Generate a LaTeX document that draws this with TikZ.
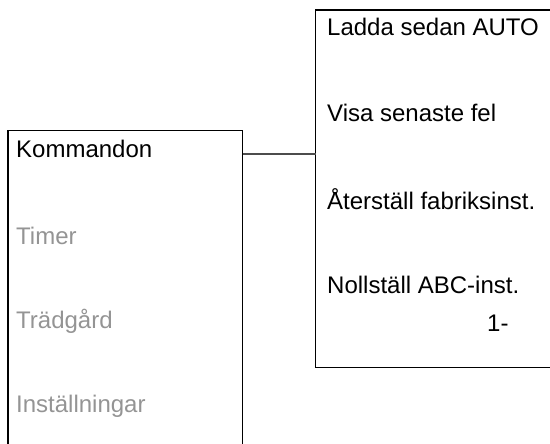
\documentclass[tikz,border=0pt]{standalone}
\usepackage{fontspec}
\setmainfont{Liberation Sans}
\begin{document}
\begin{tikzpicture}[x=1pt,y=-1pt,
  box/.style={draw=black,line width=1.3pt,inner sep=0pt,outer sep=0pt,anchor=north west},
  conn/.style={draw=black!70,line width=1.4pt},
  item/.style={anchor=base west,inner sep=0pt,font=\fontsize{24}{28}\selectfont},
  on/.style={item,text=black},
  off/.style={item,text=black!42}]
\useasboundingbox (0,0) rectangle (550,444);
\clip (0,0) rectangle (550,444);
\node[box,minimum width=234.5pt,minimum height=340pt] (left) at (8,130.5) {};
\node[box,minimum width=260pt,minimum height=357.7pt] (right) at (315.5,10) {};
\coordinate (ca) at (280,154);
\draw[conn] (left.east |- ca) -- (right.west |- ca);
\node[on]  (k)  at (16,158)   {Kommandon};
\node[off] (t)  at (16,244.3) {Timer};
\node[off] (tg) at (16,328.3) {Trädgård};
\node[off] (in) at (16,412.3) {Inställningar};
\node[on] (r1) at (327,35.7)  {Ladda sedan AUTO};
\node[on] (r2) at (327,121.7) {Visa senaste fel};
\node[on] (r3) at (327,209.3) {Återställ fabriksinst.};
\node[on] (r4) at (327,293.3) {Nollställ ABC-inst.};
\node[on] (r5) at (487,331.7) {1-};
\end{tikzpicture}
\end{document}
